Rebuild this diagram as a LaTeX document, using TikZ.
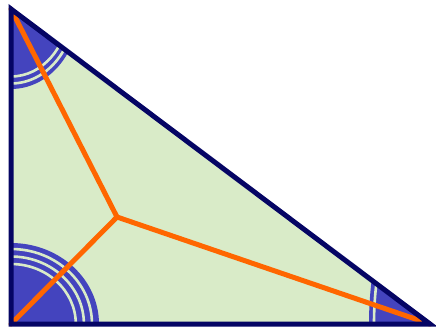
\documentclass[tikz,border=0pt]{standalone}
\definecolor{fillgreen}{RGB}{217,235,200}
\definecolor{markblue}{RGB}{68,68,190}
\definecolor{navy}{RGB}{5,5,100}
\definecolor{bisect}{RGB}{255,102,0}
\tikzset{
  edge/.style={draw=navy,line width=5pt,line join=miter},
  bisector/.style={draw=bisect,line width=5pt,line cap=round},
  markfill/.style={fill=markblue},
  gap/.style={draw=fillgreen,line width=2.6pt}
}
\begin{document}
\begin{tikzpicture}[x=1pt,y=-1pt]
\useasboundingbox (0,0) rectangle (436,329);
\coordinate (A) at (11,9);
\coordinate (B) at (11,324);
\coordinate (C) at (430,324);
\coordinate (I) at (117,217);
\fill[fillgreen] (A) -- (B) -- (C) -- cycle;
\begin{scope}
  \clip (A) -- (B) -- (C) -- cycle;
  % bottom-left: triple arcs
  \fill[markfill] (B) ellipse [x radius=88pt, y radius=81pt];
  \draw[gap] (B) ellipse [x radius=81pt, y radius=75pt];
  \draw[gap] (B) ellipse [x radius=72.9pt, y radius=67.5pt];
  \draw[gap] (B) ellipse [x radius=64.8pt, y radius=60pt];
  % top-left: double arcs
  \fill[markfill] (A) ellipse [x radius=68pt, y radius=80pt];
  \draw[gap] (A) ellipse [x radius=63.3pt, y radius=74.5pt];
  \draw[gap] (A) ellipse [x radius=57.4pt, y radius=67.5pt];
  % right: single arc
  \fill[markfill] (C) ellipse [x radius=61pt, y radius=150pt];
  \draw[gap] (C) ellipse [x radius=56pt, y radius=140pt];
\end{scope}
\draw[bisector] (I) -- (A);
\draw[bisector] (I) -- (B);
\draw[bisector] (I) -- (C);
\draw[edge] (A) -- (B) -- (C) -- cycle;
\end{tikzpicture}
\end{document}
